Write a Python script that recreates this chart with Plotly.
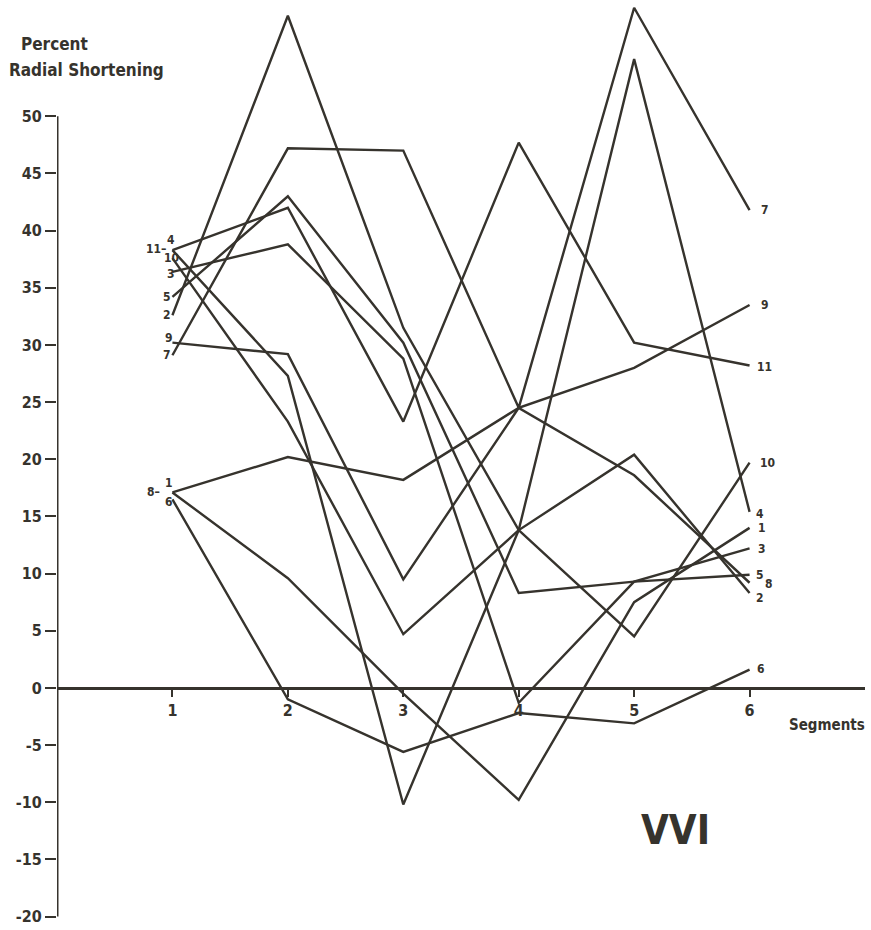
import plotly.graph_objects as go

# ---------------- data ----------------
segments = [1, 2, 3, 4, 5, 6]

s1 = [17.1, 9.6, -0.5, -9.8, 7.5, 14.0]
s2 = [32.6, 58.8, 31.5, 13.8, 20.4, 8.3]
s3 = [36.4, 38.8, 28.8, -1.3, 9.3, 12.2]
s4 = [38.3, 27.3, -10.2, 13.8, 55.0, 15.4]
s5 = [34.2, 43.0, 30.2, 8.3, 9.3, 9.9]
s6 = [16.5, -1.0, -5.6, -2.2, -3.1, 1.6]
s7 = [29.1, 47.2, 47.0, 24.5, 59.5, 41.8]
s8 = [17.1, 20.2, 18.2, 24.5, 18.6, 9.2]
s9 = [30.2, 29.2, 9.5, 24.5, 28.0, 33.5]
s10 = [37.6, 23.3, 4.7, 13.8, 4.5, 19.7]
s11 = [38.3, 42.0, 23.3, 47.7, 30.2, 28.2]

series_names = ["1", "2", "3", "4", "5", "6", "7", "8", "9", "10", "11"]
series_values = [s1, s2, s3, s4, s5, s6, s7, s8, s9, s10, s11]

y_ticks = [-20, -15, -10, -5, 0, 5, 10, 15, 20, 25, 30, 35, 40, 45, 50]
x_ticks = [1, 2, 3, 4, 5, 6]

# ---------------- style ----------------
INK = "#36332d"
FONT = "DejaVu Sans Condensed, Liberation Sans Narrow, sans-serif"
X_RANGE = [0, 7]
Y_RANGE = [-21, 60]

# label pixel offsets (dx, dy) relative to first / last point
start_off = {"4": (-1, 10), "11": (-16, 1), "10": (-1, 0), "3": (-1, -2),
             "5": (-5, 0), "2": (-5, 0), "9": (-3, 5), "7": (-5, 0),
             "1": (-3, 9), "6": (-3, -3), "8": (-19, 0)}
end_off = {"7": (15, 0), "9": (15, 0), "11": (15, -1), "10": (18, 0),
           "4": (10, -2), "1": (12, 0), "3": (12, -1), "5": (10, 0),
           "8": (19, -1), "2": (10, -5), "6": (11, 1)}

fig = go.Figure()
for name, vals in zip(series_names, series_values):
    fig.add_trace(go.Scatter(x=segments, y=vals, mode="lines", name=name,
                             line=dict(color=INK, width=2.4),
                             showlegend=False, hoverinfo="skip"))

annotations = []
lab_font = dict(family=FONT, size=12, color=INK, weight="bold")
for name, vals in zip(series_names, series_values):
    dx, dy = start_off[name]
    txt = name + "–" if name in ("11", "8") else name
    annotations.append(dict(x=segments[0], y=vals[0], xref="x", yref="y",
                            text=txt, showarrow=False, xshift=dx, yshift=dy,
                            xanchor="center", font=lab_font))
    dx, dy = end_off[name]
    annotations.append(dict(x=segments[-1], y=vals[-1], xref="x", yref="y",
                            text=name, showarrow=False, xshift=dx, yshift=dy,
                            xanchor="center", font=lab_font))

title_font = dict(family=FONT, size=17, color=INK, weight="bold")
annotations += [
    dict(x=-0.047, y=0.955, xref="paper", yref="paper", text="Percent",
         showarrow=False, xanchor="left", yanchor="middle", font=title_font),
    dict(x=-0.062, y=0.927, xref="paper", yref="paper", text="Radial Shortening",
         showarrow=False, xanchor="left", yanchor="middle", font=title_font),
    dict(x=1.003, y=0.219, xref="paper", yref="paper", text="Segments",
         showarrow=False, xanchor="right", yanchor="middle",
         font=dict(family=FONT, size=15, color=INK, weight="bold")),
    dict(x=0.765, y=0.106, xref="paper", yref="paper", text="VVI",
         showarrow=False, xanchor="center", yanchor="middle",
         font=dict(family=FONT, size=40, color=INK, weight="bold")),
]

# y-axis line spanning the tick range
shapes = [dict(type="line", xref="x", yref="y", x0=X_RANGE[0], x1=X_RANGE[0],
               y0=min(y_ticks), y1=max(y_ticks), line=dict(color=INK, width=3))]

zero_pos = (0 - Y_RANGE[0]) / (Y_RANGE[1] - Y_RANGE[0])

fig.update_layout(
    width=871, height=930,
    margin=dict(l=57, r=6, t=2, b=2),
    paper_bgcolor="white", plot_bgcolor="white",
    annotations=annotations, shapes=shapes,
    xaxis=dict(range=X_RANGE, anchor="free", position=zero_pos,
               tickvals=x_ticks, ticktext=[str(v) for v in x_ticks],
               ticks="outside", ticklen=7, tickwidth=2, tickcolor=INK,
               showline=True, linecolor=INK, linewidth=3,
               showgrid=False, zeroline=False,
               tickfont=dict(family=FONT, size=16, color=INK, weight="bold")),
    yaxis=dict(range=Y_RANGE, tickvals=y_ticks,
               ticktext=[str(v) for v in y_ticks],
               ticks="outside", ticklen=11, tickwidth=2, tickcolor=INK,
               showline=False, showgrid=False, zeroline=False,
               tickfont=dict(family=FONT, size=16, color=INK, weight="bold")),
)

fig.write_html("out.html", config={"displayModeBar": False},
               post_script="document.body.style.margin='0px';document.body.style.overflow='hidden';")
